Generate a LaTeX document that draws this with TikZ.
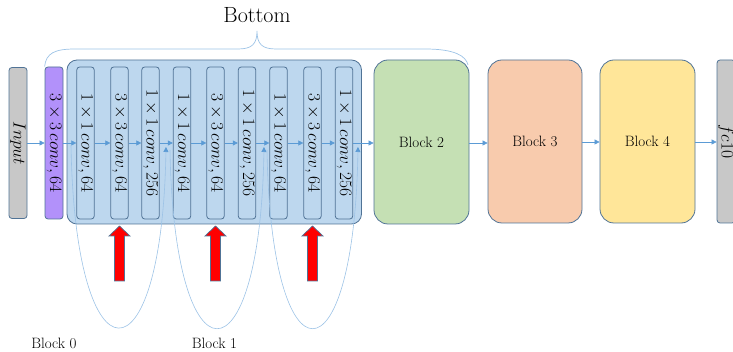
\documentclass[tikz,border=0pt]{standalone}
\usepackage{fix-cm}
\usetikzlibrary{arrows.meta}
\definecolor{cbox}{RGB}{189,215,238}
\definecolor{cedge}{RGB}{80,115,150}
\definecolor{cpurple}{RGB}{178,145,250}
\definecolor{cgray}{RGB}{200,200,200}
\definecolor{cgreen}{RGB}{197,224,180}
\definecolor{corange}{RGB}{248,203,173}
\definecolor{cyellow}{RGB}{255,230,153}
\definecolor{carrow}{RGB}{91,155,213}
\definecolor{clight}{RGB}{157,195,230}
\begin{document}
\begin{tikzpicture}[x=1pt,y=-1pt,
 box/.style={draw=cedge, line width=0.8pt, rounded corners=3pt, inner sep=0pt},
 ibox/.style={box, fill=cbox, minimum width=17.5pt, minimum height=152pt},
 rot/.style={rotate=-90, inner sep=0pt, font=\fontsize{17.5}{20}\selectfont},
 blk/.style={box, rounded corners=14pt, minimum width=95pt, minimum height=164pt, font=\fontsize{15}{17}\selectfont},
 arr/.style={-{Triangle[length=5pt,width=5pt]}, draw=carrow, line width=0.6pt},
 skip/.style={draw=clight, line width=0.6pt, -{Triangle[length=5pt,width=5pt,color=carrow,fill=carrow]}},
 lbl/.style={font=\fontsize{15}{17}\selectfont, inner sep=0pt},
 uparrow/.pic={\draw[draw=cedge, fill=red, line width=0.7pt] (-5,55) -- (-5,10) -- (-10.5,10) -- (0,0) -- (10.5,10) -- (5,10) -- (5,55) -- cycle;}
]
\useasboundingbox (0,0) rectangle (733,352);
% left boxes
\node[box, fill=cgray, minimum width=18pt, minimum height=151pt] (in) at (18,143) {};
\node[rot] (tin) at (in.center) {$Input$};
\node[box, fill=cpurple, minimum width=18pt, minimum height=152pt] (p) at (54,143) {};
\node[rot] (tp) at (p.center) {$3\times3\,conv,64$};
% container
\node[box, fill=cbox, rounded corners=10pt, minimum width=294.5pt, minimum height=164pt] (cont) at (214.25,142) {};
% inner boxes
\foreach \i/\x/\t in {1/85.5/{1\times1\,conv,64},2/119.5/{3\times3\,conv,64},3/150.5/{1\times1\,conv,256},
                      4/182/{1\times1\,conv,64},5/215.5/{3\times3\,conv,64},6/247/{1\times1\,conv,256},
                      7/278.5/{1\times1\,conv,64},8/312.5/{3\times3\,conv,64},9/344/{1\times1\,conv,256}}{
  \node[ibox] (b\i) at (\x,143) {};
  \node[rot] (t\i) at (b\i.center) {$\t$};
}
% blocks
\node[blk, fill=cgreen] (k2) at (421.5,142) {Block 2};
\node[blk, fill=corange, minimum width=94pt, minimum height=163pt] (k3) at (535,141.5) {Block 3};
\node[blk, fill=cyellow, minimum height=163pt] (k4) at (647.5,141.5) {Block 4};
\node[box, fill=cgray, minimum width=18pt, minimum height=163pt] (fc) at (726,141.5) {};
\node[rot] (tfc) at (fc.center) {$fc10$};
% main arrows
\draw[arr] (in.east) -- (p.west);
\draw[arr] (p.east) -- (b1.west);
\foreach \a/\b in {1/2,2/3,3/4,4/5,5/6,6/7,7/8,8/9}{
  \draw[arr] (b\a.east) -- (b\b.west);
}
\draw[arr] (b9.east) -- (b9.east -| k2.west);
\draw[arr] (k2.east |- 0,143) -- (k3.west |- 0,143);
\draw[arr] (k3.east |- 0,142) -- (k4.west |- 0,142);
\draw[arr] (k4.east |- 0,142) -- (fc.west |- 0,142);
% skip connections
\coordinate (s1) at (71,145);
\coordinate (e1) at (166,147);
\coordinate (s2) at (170,150);
\coordinate (e2) at (264,147);
\coordinate (s3) at (267,150);
\coordinate (e3) at (358,147);
\draw[skip] (s1) .. controls (75,388) and (162,388) .. (e1);
\draw[skip] (s2) .. controls (174,388) and (260,388) .. (e2);
\draw[skip] (s3) .. controls (271,388) and (354,388) .. (e3);
% red arrows
\pic at (b2.center |- 0,226) {uparrow};
\pic at (b5.center |- 0,226) {uparrow};
\pic at (b8.center |- 0,226) {uparrow};
% brace
\draw[clight, line width=0.7pt] (p.north west) .. controls (46,53) and (55,49) .. (75,49) -- (238,49)
  .. controls (252,49) and (257,44) .. (257,31) .. controls (257,44) and (262,49) .. (276,49) -- (425,49)
  .. controls (455,49) and (466,56) .. (468,65);
% texts
\node[font=\fontsize{22}{26}\selectfont, inner sep=0pt] (bt) at (257,15) {Bottom};
\node[lbl] (l0) at (54,343) {Block 0};
\node[lbl] (l1) at (214.5,343) {Block 1};
\end{tikzpicture}
\end{document}
